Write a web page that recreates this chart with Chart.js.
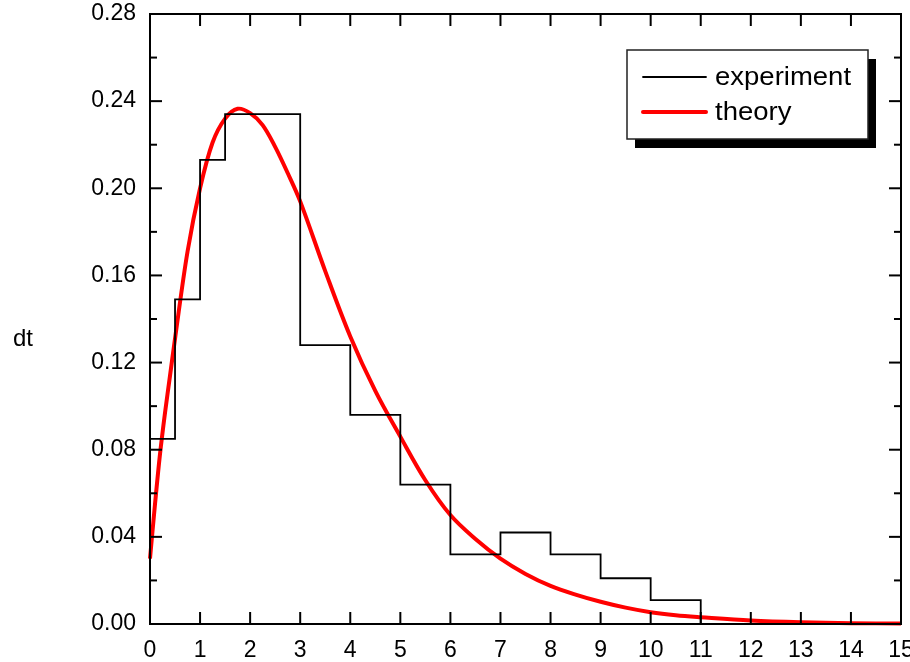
<!DOCTYPE html>
<html>
<head>
<meta charset="utf-8">
<script src="https://cdn.jsdelivr.net/npm/chart.js@4"></script>
<style>
  html, body { margin: 0; padding: 0; background: #fff; }
  #wrap { width: 910px; height: 662px; }
</style>
</head>
<body>
<div id="wrap"><canvas id="chart"></canvas></div>
<script>
// histogram bins (left edges) and heights, last edge closes the last bin
const binEdges = [0, 0.5, 1, 1.5, 3, 4, 5, 6, 7, 8, 9, 10, 11];
const binHeights = [0.085, 0.149, 0.213, 0.234, 0.128, 0.096, 0.064, 0.032, 0.042, 0.032, 0.021, 0.011];

// theory curve
const theoryX = [0, 0.1, 0.2, 0.3, 0.4, 0.5, 0.75, 1, 1.25, 1.5, 1.75, 2, 2.25, 2.5, 2.75, 3, 3.5, 4, 4.5, 5, 5.5, 6, 6.5, 7, 7.5, 8, 8.5, 9, 9.5, 10, 10.5, 11, 12, 13, 14, 15];
const theoryY = [0.030, 0.055, 0.078, 0.097, 0.114, 0.131, 0.171, 0.200, 0.221, 0.232, 0.2365, 0.2345, 0.229, 0.219, 0.207, 0.194, 0.162, 0.132, 0.107, 0.086, 0.066, 0.050, 0.039, 0.030, 0.023, 0.0175, 0.0135, 0.0102, 0.0075, 0.0054, 0.0040, 0.0031, 0.0016, 0.0008, 0.0004, 0.0002];

const xMin = 0, xMax = 15, xStep = 1;
const yMin = 0, yMax = 0.28, yStep = 0.04, yMinorStep = 0.02;
const yTitle = "dt";

// build stepped points from the bins
const histPoints = [{ x: binEdges[0], y: 0 }];
binHeights.forEach((h, i) => histPoints.push({ x: binEdges[i], y: h }));
histPoints.push({ x: binEdges[binEdges.length - 1], y: 0 });

const theoryPoints = theoryX.map((x, i) => ({ x, y: theoryY[i] }));

const FONT = "'Liberation Sans', Arial, sans-serif";

// frame, inward ticks, y title and boxed legend
const decorations = {
  id: "decorations",
  afterDraw(chart) {
    const { ctx, chartArea: a, scales } = chart;
    const x = scales.x, y = scales.y;
    ctx.save();
    ctx.strokeStyle = "#000";
    ctx.lineWidth = 2;
    ctx.strokeRect(a.left, a.top, a.right - a.left, a.bottom - a.top);

    const seg = (x1, y1, x2, y2) => {
      ctx.beginPath();
      ctx.moveTo(x1, y1);
      ctx.lineTo(x2, y2);
      ctx.stroke();
    };

    x.ticks.forEach((t) => {
      const px = x.getPixelForValue(t.value);
      seg(px, a.bottom, px, a.bottom - 12);
      seg(px, a.top, px, a.top + 12);
    });

    const n = Math.round((yMax - yMin) / yMinorStep);
    for (let i = 0; i <= n; i++) {
      const v = yMin + i * yMinorStep;
      const py = y.getPixelForValue(v);
      const len = i % 2 === 0 ? 12 : 7;
      seg(a.left, py, a.left + len, py);
      seg(a.right, py, a.right - len, py);
    }

    // y title, horizontal
    ctx.fillStyle = "#000";
    ctx.font = "24px " + FONT;
    ctx.textAlign = "left";
    ctx.textBaseline = "alphabetic";
    ctx.fillText(yTitle, 13, 346);

    // legend box with drop shadow
    const lx = 627, ly = 50, lw = 241, lh = 89;
    ctx.fillStyle = "#000";
    ctx.fillRect(lx + 8, ly + 9, lw, lh);
    ctx.fillStyle = "#fff";
    ctx.fillRect(lx, ly, lw, lh);
    ctx.strokeStyle = "#222";
    ctx.lineWidth = 1.5;
    ctx.strokeRect(lx, ly, lw, lh);

    chart.data.datasets.forEach((ds, i) => {
      const ry = ly + 27 + i * 35;
      ctx.strokeStyle = ds.borderColor;
      ctx.lineWidth = ds.borderWidth;
      ctx.lineCap = "round";
      seg(643, ry, 706, ry);
      ctx.save();
      ctx.translate(715, ry + 8);
      ctx.scale(1.1, 1);
      ctx.fillStyle = "#000";
      ctx.font = "25px " + FONT;
      ctx.fillText(ds.label, 0, 0);
      ctx.restore();
    });
    ctx.restore();
  },
};

new Chart(document.getElementById("chart"), {
  type: "line",
  data: {
    datasets: [
      {
        label: "experiment",
        data: histPoints,
        stepped: "before",
        borderColor: "#000",
        borderWidth: 1.8,
        pointRadius: 0,
        fill: false,
      },
      {
        label: "theory",
        data: theoryPoints,
        borderColor: "#ff0000",
        borderWidth: 4,
        pointRadius: 0,
        tension: 0.35,
        fill: false,
        clip: false,
      },
    ],
  },
  options: {
    responsive: true,
    maintainAspectRatio: false,
    animation: false,
    layout: { padding: { top: 14, right: 9, left: 0, bottom: 0 } },
    plugins: { legend: { display: false }, tooltip: { enabled: false } },
    scales: {
      x: {
        type: "linear",
        min: xMin,
        max: xMax,
        ticks: { stepSize: xStep, color: "#000", padding: 5, font: { family: FONT, size: 23 } },
        grid: { display: false },
        border: { display: false },
        afterFit: (s) => { s.height = 38; s.paddingLeft = 0; s.paddingRight = 0; },
      },
      y: {
        min: yMin,
        max: yMax,
        ticks: {
          stepSize: yStep,
          color: "#000",
          padding: 6,
          font: { family: FONT, size: 23 },
          callback: (v) => v.toFixed(2),
        },
        grid: { display: false },
        border: { display: false },
        afterFit: (s) => { s.width = 150; s.paddingTop = 0; s.paddingBottom = 0; },
      },
    },
  },
  plugins: [decorations],
});
</script>
</body>
</html>
